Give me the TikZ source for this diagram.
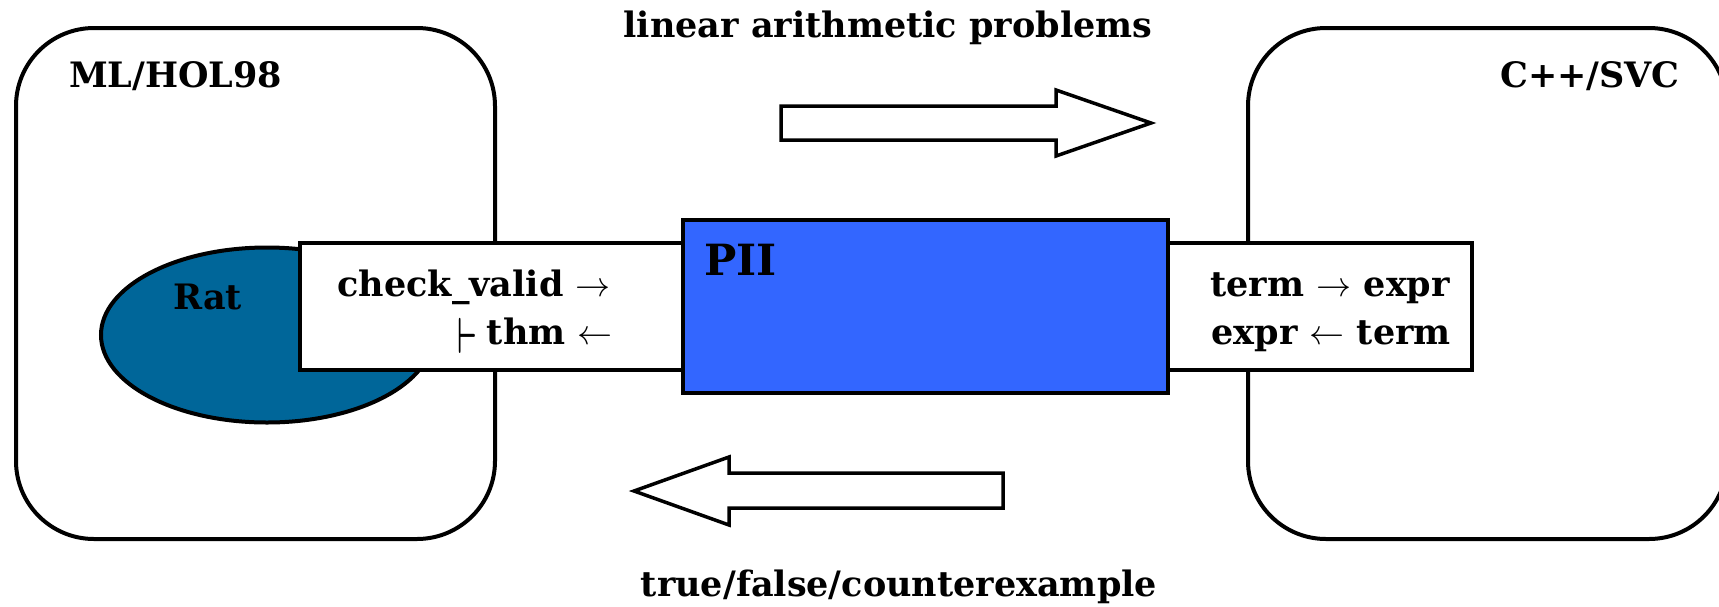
\documentclass[tikz,border=0pt]{standalone}
\usepackage{fix-cm}
\usepackage{fontspec}
\setmainfont{DejaVu Serif}
\usepackage{tikz}
\usetikzlibrary{positioning,shapes.geometric}

\definecolor{ratblue}{RGB}{0,102,153}
\definecolor{piiblue}{RGB}{51,102,255}

\newcommand{\turnstile}{\raisebox{-9pt}{\scalebox{0.8}[1.45]{\boldmath$\vdash$}}}

\tikzset{
  system/.style={draw,line width=4pt,fill=white,rounded corners=78pt,
    minimum width=479pt,minimum height=511pt,anchor=north west,inner sep=0pt},
  linkbox/.style={draw,line width=3.5pt,fill=white,minimum height=127pt,
    anchor=north west,inner sep=0pt},
  lbl/.style={font=\fontsize{35}{42}\selectfont\bfseries,inner sep=0pt},
  bigarrow/.style={draw,line width=3.5pt,fill=white,line join=miter},
}

\begin{document}
\begin{tikzpicture}[x=1pt,y=-1pt]
\useasboundingbox (0,0) rectangle (1719,606);
\clip (0,0) rectangle (1719,606);

% the two systems
\node[system] (hol) at (14,26) {};
\node[system] (svc) at (1246,26) {};
\node[lbl,anchor=base west] (holname) at (69,87) {ML/HOL98};
\node[lbl,anchor=base east] (svcname) at (1680,87) {C++/SVC};

% Rat library
\node[ellipse,draw,line width=4pt,fill=ratblue,minimum width=332pt,
  minimum height=175pt] (rat) at (267,335) {};
\node[lbl,anchor=base west] (ratname) at (173,309) {Rat};

% interface boxes and PII
\node[linkbox,minimum width=420pt] (hollink) at (298,241) {};
\node[linkbox,minimum width=320pt] (svclink) at (1150,241) {};
\node[draw,line width=4pt,fill=piiblue,minimum width=485pt,minimum height=173pt,
  anchor=north west,inner sep=0pt] (pii) at (681,218) {};
\node[lbl,font=\fontsize{43}{50}\selectfont\bfseries,anchor=base west] (piiname)
  at (704,275) {PII};

\node[lbl,anchor=base east] (holto) at (611,296) {check\_valid $\rightarrow$};
\node[lbl,anchor=base east] (holfrom) at (613,344) {\turnstile\;thm $\leftarrow$};
\node[lbl,anchor=base east] (svcto) at (1450,296) {term $\rightarrow$ expr};
\node[lbl,anchor=base east] (svcfrom) at (1451,344) {expr $\leftarrow$ term};

% traffic between the two sides
\draw[bigarrow] (781,106) -- (1056,106) -- (1056,90) -- (1151,123) -- (1056,156)
  -- (1056,140) -- (781,140) -- cycle;
\node[lbl,anchor=base] (query) at (888,37) {linear arithmetic problems};

\draw[bigarrow] (1003,473) -- (729,473) -- (729,457) -- (634,491) -- (729,525)
  -- (729,508) -- (1003,508) -- cycle;
\node[lbl,anchor=base] (answer) at (899,596) {true/false/counterexample};
\end{tikzpicture}
\end{document}
